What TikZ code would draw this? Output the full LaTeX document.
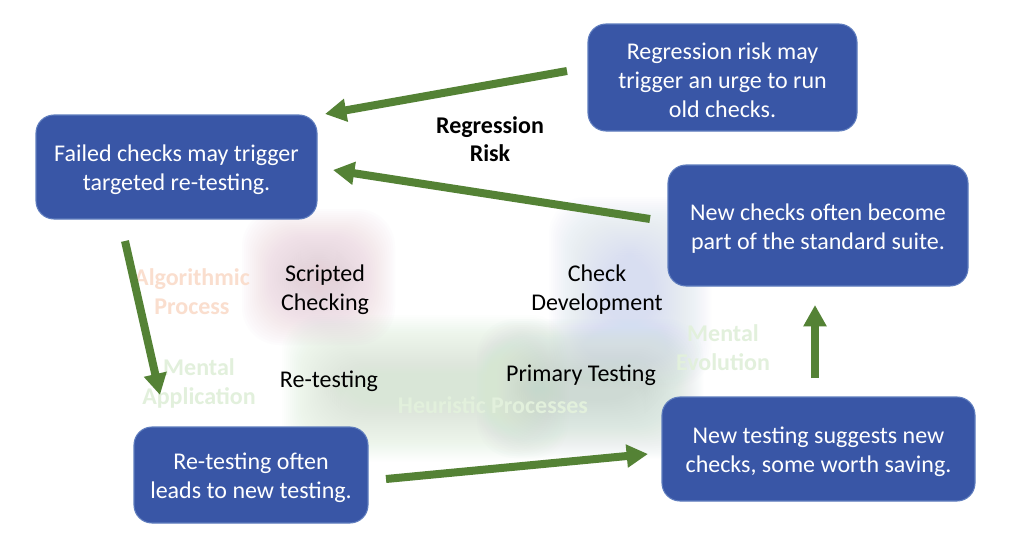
\documentclass[tikz,border=0pt]{standalone}
\usepackage{fontspec}
\setmainfont{Carlito}
\usetikzlibrary{arrows.meta}
\definecolor{boxblue}{RGB}{57,86,166}
\definecolor{boxedge}{RGB}{95,125,190}
\definecolor{arrgreen}{RGB}{84,130,53}
\definecolor{blobpink}{RGB}{229,200,213}
\definecolor{blobblue}{RGB}{212,222,241}
\definecolor{blobgreen}{RGB}{214,230,210}
\definecolor{blobgray}{RGB}{196,216,204}
\definecolor{fadeorange}{RGB}{250,222,206}
\definecolor{fadegreen}{RGB}{226,240,220}
\tikzset{
  box/.style={draw=boxedge, line width=0.8pt, fill=boxblue, rounded corners=13.5pt,
    text=white, align=center, inner sep=0pt, font=\fontsize{18pt}{21.75pt}\selectfont},
  boxtext/.style={text=white, align=center, inner sep=0pt, yshift=-2.25pt,
    font=\fontsize{18pt}{21.75pt}\selectfont},
  lbl/.style={align=center, inner sep=0pt, font=\fontsize{18pt}{21.75pt}\selectfont},
  faint/.style={align=center, inner sep=0pt, font=\bfseries\fontsize{18pt}{21.75pt}\selectfont},
  flow/.style={draw=arrgreen, line width=6pt, -{Triangle[width=16.5pt,length=16pt]}},
  blob/.style={opacity=0.04, rounded corners=28pt}
}
\begin{document}
\begin{tikzpicture}[x=0.75pt,y=-0.75pt]
\useasboundingbox (0,0) rectangle (1024,533);
\fill[white] (0,0) rectangle (1024,533);
% soft background blobs
\foreach \i in {0,...,29} {
  \fill[blobpink, blob] (242+2*\i,209+2*\i) rectangle (395-2*\i,345-2*\i);
  \fill[blobblue, blob] (549+2*\i,197+2*\i) rectangle (711-2*\i,388-2*\i);
  \fill[blobgreen, blob] (282+2*\i,315+2*\i) rectangle (568-2*\i,461-2*\i);
  \fill[blobgray, blob] (477+2*\i,319+2*\i) rectangle (703-2*\i,458-2*\i);
}
% faint labels
\node[faint, text=fadeorange] (alg) at (192,292) {Algorithmic\\Process};
\node[faint, text=fadegreen] (mapp) at (199,383) {Mental\\Application};
\node[faint, text=fadegreen] (heur) at (493,405) {Heuristic Processes};
\node[faint, text=fadegreen] (mevo) at (723,348) {Mental\\Evolution};
% labels
\node[lbl] (scr) at (325,290) {Scripted\\Checking};
\node[lbl] (chk) at (597,290) {Check\\Development};
\node[lbl] (ret) at (329,381) {Re-testing};
\node[lbl] (prim) at (581,375) {Primary Testing};
\node[lbl, font=\bfseries\fontsize{18pt}{21pt}\selectfont] (reg) at (490,139) {Regression\\Risk};
% boxes
\node[box, minimum width=201.75pt, minimum height=80.25pt] (b1) at (722.5,77.5) {};
\node[boxtext] (t1) at (b1.center) {Regression risk may\\trigger an urge to run\\old checks.};
\node[box, minimum width=210.75pt, minimum height=78pt] (b2) at (176.5,167) {};
\node[boxtext] (t2) at (b2.center) {Failed checks may trigger\\targeted re-testing.};
\node[box, minimum width=225pt, minimum height=90.75pt] (b3) at (818,225.5) {};
\node[boxtext] (t3) at (b3.center) {New checks often become\\part of the standard suite.};
\node[box, minimum width=234.75pt, minimum height=78pt] (b4) at (818.5,449) {};
\node[boxtext] (t4) at (b4.center) {New testing suggests new\\checks, some worth saving.};
\node[box, minimum width=175.5pt, minimum height=72pt] (b5) at (251,475) {};
\node[boxtext] (t5) at (b5.center) {Re-testing often\\leads to new testing.};
% arrow ends
\coordinate (a1s) at (567,71);  \coordinate (a1e) at (325,114);
\coordinate (a2s) at (650,219); \coordinate (a2e) at (333,170);
\coordinate (a3s) at (125,241); \coordinate (a3e) at (160,395);
\coordinate (a4s) at (386,479); \coordinate (a4e) at (648,454);
\coordinate (a5s) at (815,378); \coordinate (a5e) at (815,305);
\draw[flow] (a1s) -- (a1e);
\draw[flow] (a2s) -- (a2e);
\draw[flow] (a3s) -- (a3e);
\draw[flow] (a4s) -- (a4e);
\draw[flow] (a5s) -- (a5e);
\end{tikzpicture}
\end{document}
